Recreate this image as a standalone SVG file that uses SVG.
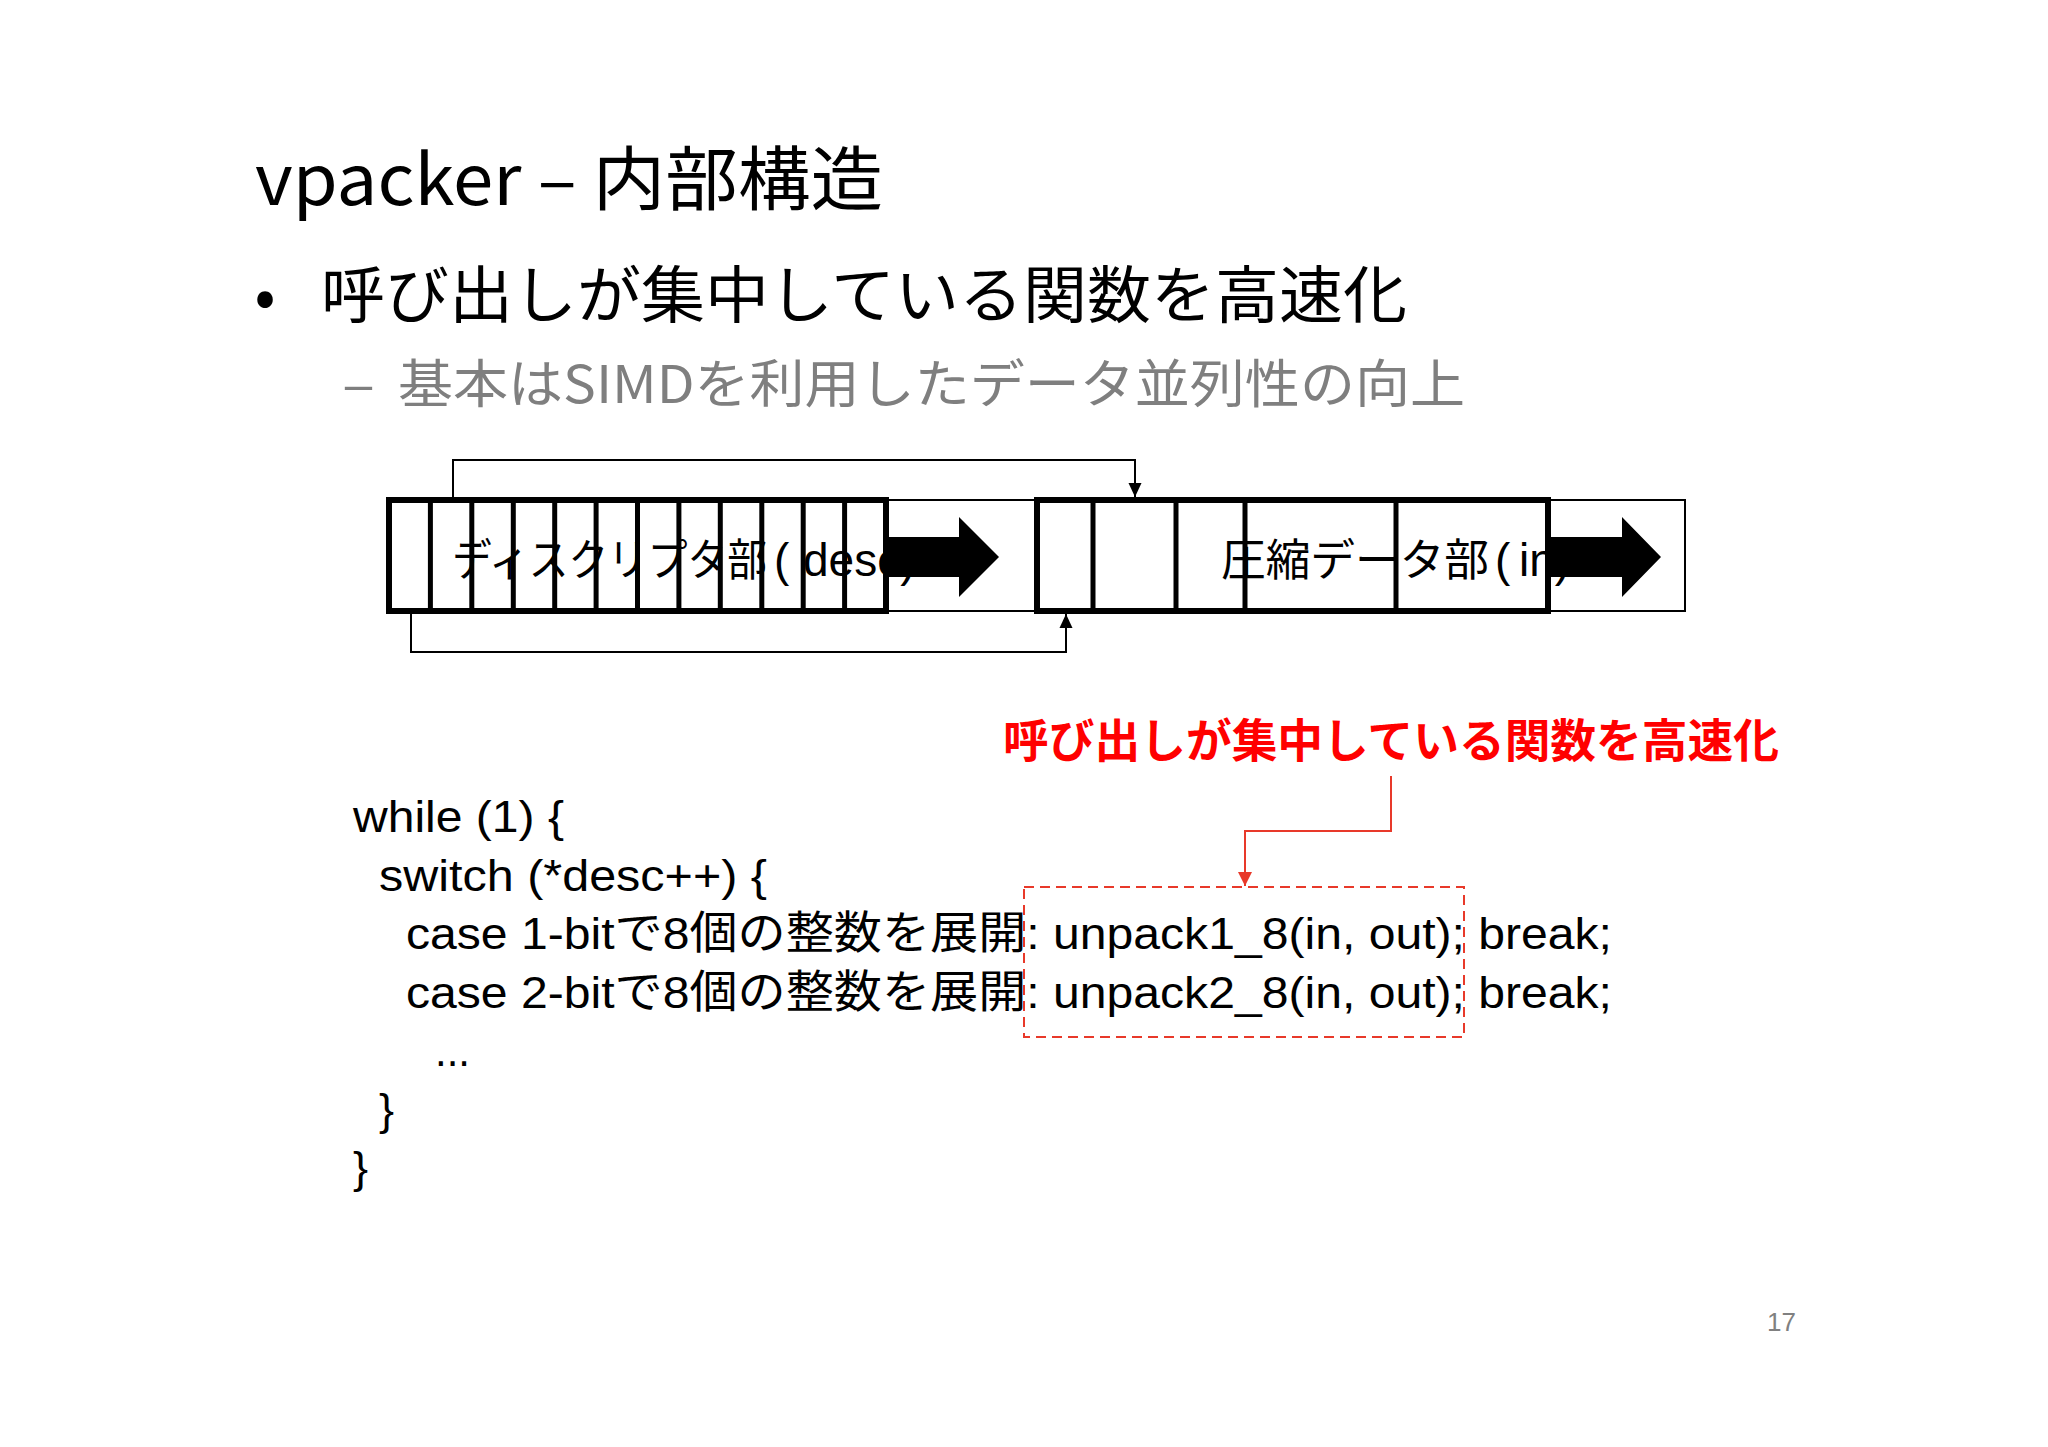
<svg xmlns="http://www.w3.org/2000/svg" width="2048" height="1447" viewBox="0 0 2048 1447">
<style>
.jp{font-family:"Noto Sans CJK JP","Noto Sans",sans-serif;}
.code{font-family:"Liberation Sans","Noto Sans CJK JP",sans-serif;font-size:45px;fill:#000;}
.thick{fill:none;stroke:#000;stroke-width:6;}
.div{stroke:#000;stroke-width:5;}
.thin{fill:none;stroke:#000;stroke-width:2;}
.lbl{font-family:"Noto Sans CJK JP",sans-serif;font-size:44px;fill:#000;}
.lat{font-family:"Liberation Sans","Noto Sans CJK JP",sans-serif;font-size:46px;fill:#000;}
.red{fill:none;stroke:#e8392a;stroke-width:2;}
</style>
<defs>
<marker id="ah" markerUnits="userSpaceOnUse" markerWidth="14" markerHeight="14" refX="14" refY="7" orient="auto">
<path d="M0,0.5 L14,7 L0,13.5 z" fill="#000"/>
</marker>
<marker id="ahr" markerUnits="userSpaceOnUse" markerWidth="14" markerHeight="16" refX="14" refY="8" orient="auto">
<path d="M0,1 L14,8 L0,15 z" fill="#e8392a"/>
</marker>
</defs>
<rect width="2048" height="1447" fill="#fff"/>

<g id="title">
<text class="jp" x="255" y="205" font-size="70" textLength="628" lengthAdjust="spacingAndGlyphs" fill="#000">vpacker – 内部構造</text>
</g>
<g id="bullet1">
<text class="jp" x="265" y="318" font-size="62" text-anchor="middle" fill="#000">•</text>
<text class="jp" x="321" y="318" font-size="62" textLength="1086" lengthAdjust="spacingAndGlyphs" fill="#000">呼び出しが集中している関数を高速化</text>
</g>
<g id="bullet2">
<text class="jp" x="342" y="403" font-size="52" textLength="33" lengthAdjust="spacingAndGlyphs" fill="#7f7f7f">–</text>
<text class="jp" x="398" y="403" font-size="52" textLength="1067" lengthAdjust="spacingAndGlyphs" fill="#7f7f7f">基本はSIMDを利用したデータ並列性の向上</text>
</g>

<g id="stream">
<rect class="thin" x="886" y="500" width="799" height="111"/>
</g>

<g id="desc-node">
<text class="lbl" x="452" y="576" textLength="315" lengthAdjust="spacingAndGlyphs">ディスクリプタ部</text>
<text class="lat" x="774" y="576">(</text>
<text class="lat" x="803" y="576">desc)</text>
<rect class="thick" x="389" y="500" width="497" height="111"/>
<g class="div">
<line x1="430.4" y1="500" x2="430.4" y2="611"/>
<line x1="471.8" y1="500" x2="471.8" y2="611"/>
<line x1="513.3" y1="500" x2="513.3" y2="611"/>
<line x1="554.7" y1="500" x2="554.7" y2="611"/>
<line x1="596.1" y1="500" x2="596.1" y2="611"/>
<line x1="637.5" y1="500" x2="637.5" y2="611"/>
<line x1="678.9" y1="500" x2="678.9" y2="611"/>
<line x1="720.3" y1="500" x2="720.3" y2="611"/>
<line x1="761.8" y1="500" x2="761.8" y2="611"/>
<line x1="803.2" y1="500" x2="803.2" y2="611"/>
<line x1="844.6" y1="500" x2="844.6" y2="611"/>
</g>
<polygon points="888,537 959,537 959,517 999,557 959,597 959,577 888,577" fill="#000"/>
</g>

<g id="data-node">
<rect x="1037" y="500" width="511" height="111" fill="#fff"/>
<text class="lbl" x="1221" y="576" textLength="268" lengthAdjust="spacingAndGlyphs">圧縮データ部</text>
<text class="lat" x="1495" y="576">(</text>
<text class="lat" x="1519" y="576">in)</text>
<rect class="thick" x="1037" y="500" width="511" height="111"/>
<g class="div">
<line x1="1093" y1="500" x2="1093" y2="611"/>
<line x1="1176" y1="500" x2="1176" y2="611"/>
<line x1="1245" y1="500" x2="1245" y2="611"/>
<line x1="1396" y1="500" x2="1396" y2="611"/>
</g>
<polygon points="1550,537 1622,537 1622,517 1661,557 1622,597 1622,577 1550,577" fill="#000"/>
</g>

<g id="connectors">
<polyline class="thin" points="453,497 453,460 1135,460 1135,497" marker-end="url(#ah)"/>
<polyline class="thin" points="411,614 411,652 1066,652 1066,614" marker-end="url(#ah)"/>
<polyline class="red" points="1391,776 1391,831 1245,831 1245,886" marker-end="url(#ahr)"/>
</g>

<g id="callout">
<text class="jp" x="1003" y="757" font-size="46" font-weight="bold" textLength="776" lengthAdjust="spacingAndGlyphs" fill="#ff0000">呼び出しが集中している関数を高速化</text>
</g>

<g id="code">
<text class="code" x="353" y="832" textLength="211" lengthAdjust="spacingAndGlyphs">while (1) {</text>
<text class="code" x="379" y="890.5" textLength="388" lengthAdjust="spacingAndGlyphs">switch (*desc++) {</text>
<text class="code" x="406" y="949" textLength="1206" lengthAdjust="spacingAndGlyphs">case 1-bitで8個の整数を展開: unpack1_8(in, out); break;</text>
<text class="code" x="406" y="1007.5" textLength="1206" lengthAdjust="spacingAndGlyphs">case 2-bitで8個の整数を展開: unpack2_8(in, out); break;</text>
<text class="code" x="435" y="1066" textLength="35" lengthAdjust="spacingAndGlyphs">...</text>
<text class="code" x="379" y="1124.5">}</text>
<text class="code" x="353" y="1183">}</text>
</g>

<g id="highlight">
<rect x="1024" y="887" width="440" height="150" fill="none" stroke="#e8392a" stroke-width="2" stroke-dasharray="10,6"/>
</g>

<g id="page">
<text x="1767" y="1331" font-family="Liberation Sans, sans-serif" font-size="26" fill="#808080">17</text>
</g>
</svg>
